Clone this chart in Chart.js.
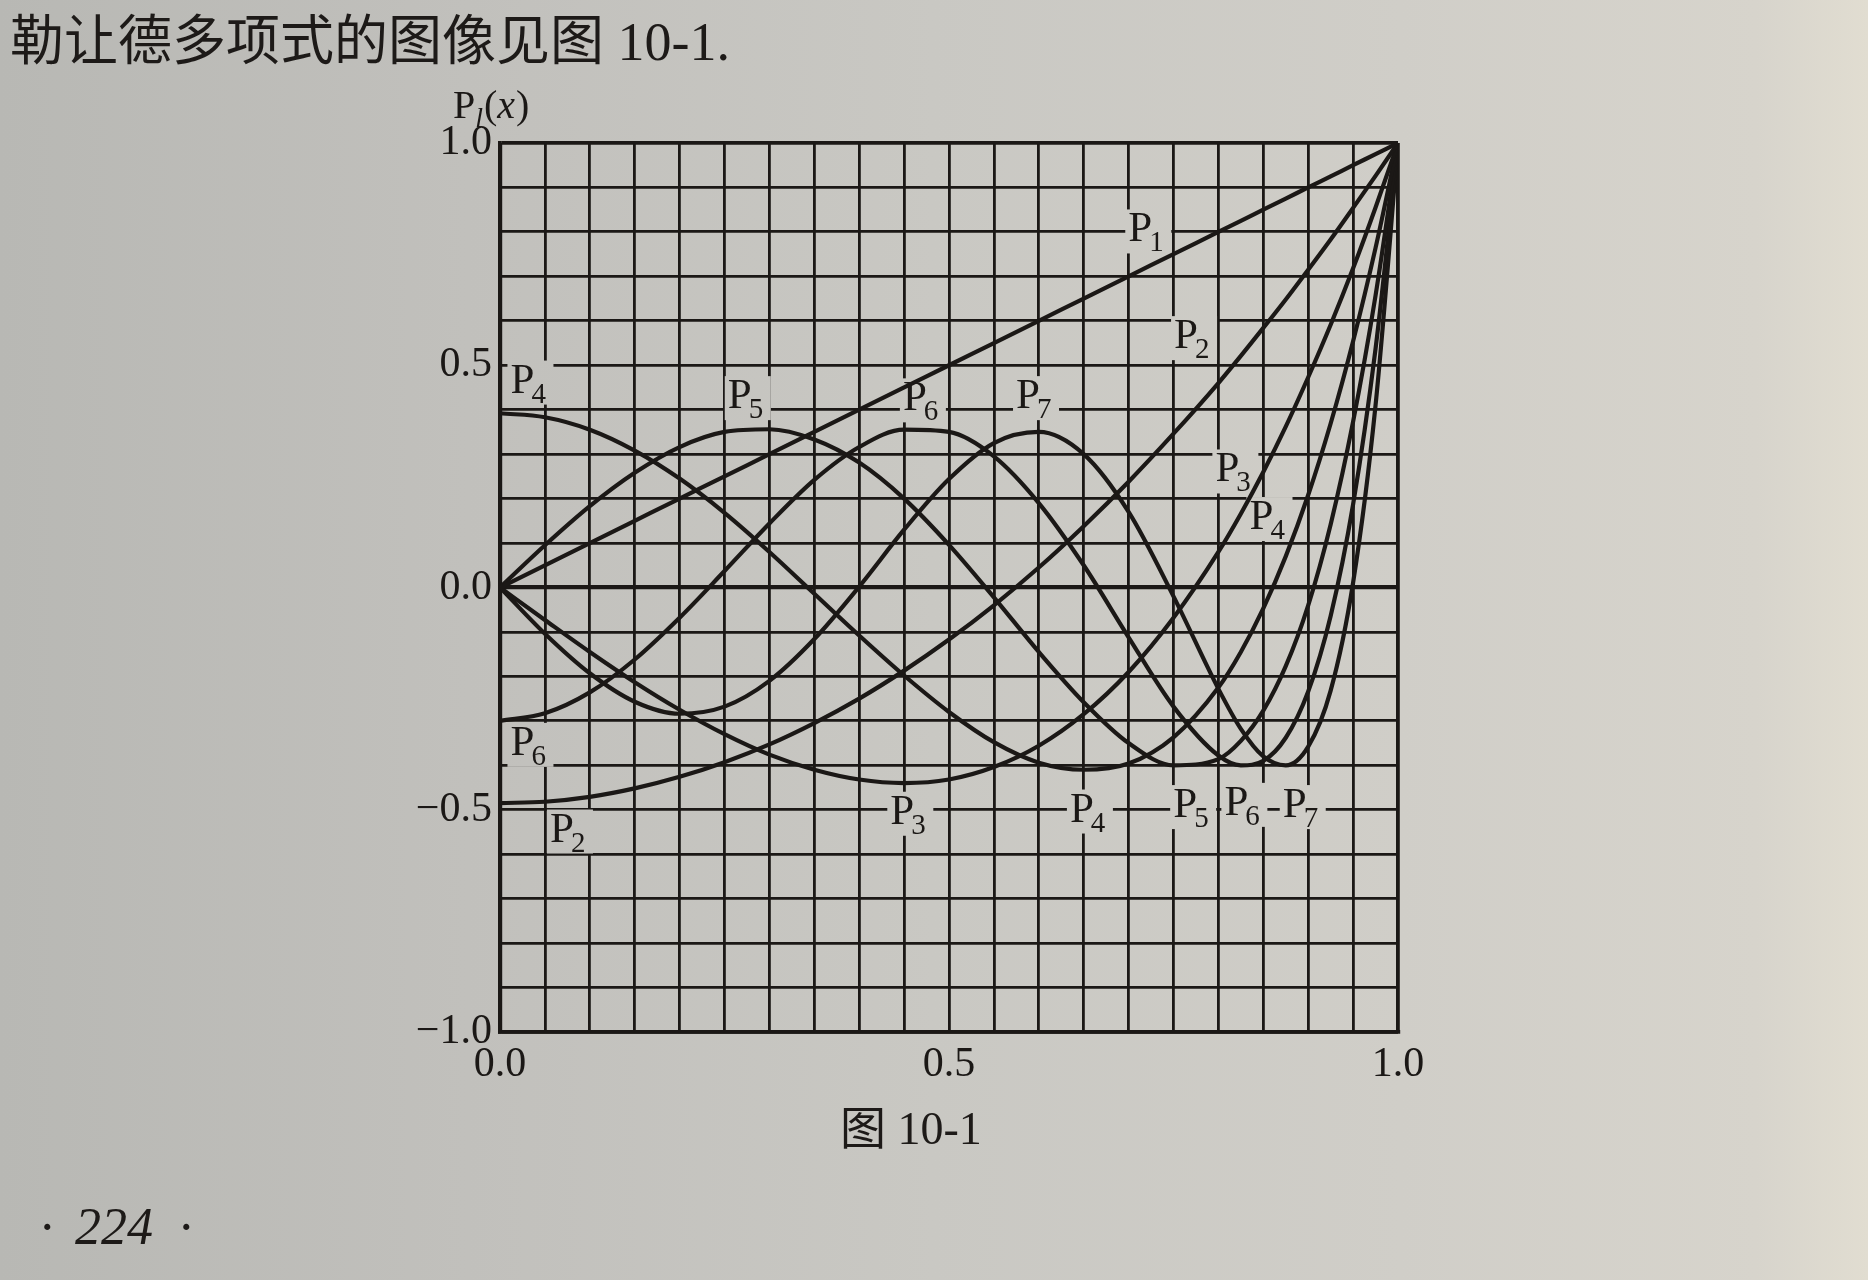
<!DOCTYPE html>
<html><head><meta charset="utf-8">
<script src="https://cdn.jsdelivr.net/npm/chart.js@4.4.1/dist/chart.umd.min.js"></script>
<style>
html,body{margin:0;padding:0;}
body{width:1868px;height:1280px;overflow:hidden;position:relative;background:#c9c8c3;
font-family:"Liberation Serif","Noto Sans CJK SC",serif;color:#1d1a18;}
#wrap{position:absolute;left:0;top:0;width:1868px;height:1280px;}
.txt{position:absolute;white-space:nowrap;z-index:2;}
</style></head><body>
<div id="wrap"><canvas id="c" width="1868" height="1280"></canvas></div>
<div class="txt" style="left:10px;top:11px;font-size:54px;line-height:62px;">勒让德多项式的图像见图 10-1.</div>
<div class="txt" style="left:840px;top:1103px;font-size:46px;line-height:52px;">图 10-1</div>
<div class="txt" style="left:40px;top:1197px;font-size:52px;line-height:60px;font-style:italic;"><span>·</span><span style="margin-left:22px;">224</span><span style="margin-left:26px;">·</span></div>
<script>
// ---- data ----
const xValues = [0,0.05,0.1,0.15,0.2,0.25,0.3,0.35,0.4,0.45,0.5,0.55,0.6,0.65,0.7,0.75,0.8,0.825,0.85,0.875,0.9,0.925,0.95,0.975,1];
const p1 = [0,0.05,0.1,0.15,0.2,0.25,0.3,0.35,0.4,0.45,0.5,0.55,0.6,0.65,0.7,0.75,0.8,0.825,0.85,0.875,0.9,0.925,0.95,0.975,1];
const p2 = [-0.485,-0.482,-0.471,-0.452,-0.426,-0.393,-0.353,-0.305,-0.25,-0.187,-0.117,-0.04,0.045,0.138,0.238,0.346,0.46,0.521,0.584,0.648,0.715,0.783,0.854,0.926,1];
const p3 = [0,-0.073,-0.145,-0.213,-0.275,-0.33,-0.376,-0.41,-0.432,-0.44,-0.432,-0.404,-0.356,-0.285,-0.19,-0.068,0.08,0.166,0.26,0.362,0.473,0.591,0.718,0.855,1];
const p4 = [0.392,0.383,0.355,0.308,0.245,0.168,0.08,-0.014,-0.108,-0.198,-0.28,-0.348,-0.394,-0.41,-0.396,-0.337,-0.225,-0.145,-0.047,0.07,0.208,0.369,0.554,0.764,1];
const p5 = [0,0.095,0.183,0.258,0.316,0.35,0.356,0.333,0.281,0.2,0.096,-0.022,-0.145,-0.258,-0.35,-0.4,-0.386,-0.345,-0.277,-0.177,-0.04,0.142,0.373,0.657,1];
const p6 = [-0.3,-0.283,-0.236,-0.162,-0.068,0.037,0.144,0.242,0.316,0.355,0.35,0.295,0.19,0.05,-0.112,-0.268,-0.378,-0.4,-0.39,-0.338,-0.234,-0.064,0.187,0.537,1];
const p7 = [0,-0.104,-0.193,-0.257,-0.284,-0.268,-0.21,-0.116,0.002,0.13,0.244,0.325,0.35,0.3,0.17,-0.02,-0.228,-0.318,-0.38,-0.4,-0.358,-0.232,0.011,0.41,1];
const seriesNames = ['P1','P2','P3','P4','P5','P6','P7'];
const xTickValues = [0,0.5,1];
const xTickLabels = ['0.0','0.5','1.0'];
const yTickValues = [-1,-0.5,0,0.5,1];
const yTickLabels = ['\u22121.0','\u22120.5','0.0','0.5','1.0'];
// curve labels (subscript index, position in data units)
const labelSubs = ['1','2','3','4','4','5','6','7','6','2','3','4','5','6','7'];
const labelXs = [0.713,0.764,0.81,0.848,0.025,0.267,0.462,0.588,0.025,0.069,0.448,0.648,0.763,0.82,0.885];
const labelYs = [0.81,0.57,0.27,0.163,0.47,0.435,0.43,0.435,-0.345,-0.54,-0.5,-0.495,-0.485,-0.48,-0.485];

const seriesValues = [p1,p2,p3,p4,p5,p6,p7];
const INK = '#1b1816';
const SERIF = '"Liberation Serif","Times New Roman",serif';
const paperStops = [[0,'#b8b8b4'],[0.25,'#c1c0bc'],[0.5,'#c9c8c3'],[0.75,'#d0cec8'],[0.94,'#d7d4cc'],[1,'#e1ddd1']];

function paperGradient(ctx){
  const g = ctx.createLinearGradient(0,0,1868,0);
  paperStops.forEach(s=>g.addColorStop(s[0],s[1]));
  return g;
}

function labelGeom(chart,i){
  const xs=chart.scales.x, ys=chart.scales.y;
  const cx=xs.getPixelForValue(labelXs[i]), cy=ys.getPixelForValue(labelYs[i]);
  return {cx,cy,base:cy+14};
}

const paper = {
  id:'paper',
  beforeDraw(chart){
    const ctx=chart.ctx;
    ctx.save();
    ctx.fillStyle=paperGradient(ctx);
    ctx.fillRect(0,0,chart.width,chart.height);
    ctx.restore();
  }
};

const curveLabels = {
  id:'curveLabels',
  beforeDatasetsDraw(chart){
    const ctx=chart.ctx;
    ctx.save();
    ctx.fillStyle=paperGradient(ctx);
    for(let i=0;i<labelSubs.length;i++){
      const g=labelGeom(chart,i);
      ctx.fillRect(g.cx-15,g.cy-18,46,44);
    }
    ctx.restore();
  },
  afterDatasetsDraw(chart){
    const ctx=chart.ctx;
    ctx.save();
    ctx.fillStyle=INK;
    ctx.textBaseline='alphabetic';
    for(let i=0;i<labelSubs.length;i++){
      const g=labelGeom(chart,i);
      ctx.font='43px '+SERIF;
      ctx.textAlign='center';
      ctx.fillText('P',g.cx,g.base);
      const w=ctx.measureText('P').width;
      ctx.font='29px '+SERIF;
      ctx.textAlign='left';
      ctx.fillText(labelSubs[i],g.cx+w/2-3,g.base+10);
    }
    // axis title P_l(x)
    let x=453; const b=118;
    ctx.textAlign='left';
    ctx.font='40px '+SERIF;
    ctx.fillText('P',x,b); x+=ctx.measureText('P').width;
    ctx.font='italic 28px '+SERIF;
    ctx.fillText('l',x,b+9); x+=ctx.measureText('l').width+1;
    ctx.font='40px '+SERIF;
    ctx.fillText('(',x,b); x+=ctx.measureText('(').width;
    ctx.font='italic 40px '+SERIF;
    ctx.fillText('x',x,b); x+=ctx.measureText('x').width+1;
    ctx.font='40px '+SERIF;
    ctx.fillText(')',x,b);
    ctx.restore();
  }
};

function near(v,arr){ for(let i=0;i<arr.length;i++){ if(Math.abs(v-arr[i])<1e-6) return i; } return -1; }

const datasets = seriesValues.map((vals,k)=>({
  label: seriesNames[k],
  data: xValues.map((xv,i)=>({x:xv,y:vals[i]})),
  borderColor: INK,
  borderWidth: 4.2,
  pointRadius: 0,
  fill:false,
  cubicInterpolationMode:'monotone'
}));

function gridWidth(ctx){
  const v = ctx.tick ? ctx.tick.value : null;
  if(v===null) return 2.8;
  if(Math.abs(v)<1e-6) return 4.2;
  if(Math.abs(Math.abs(v)-1)<1e-6) return 3.8;
  return 2.8;
}

new Chart(document.getElementById('c'),{
  type:'line',
  data:{datasets},
  options:{
    responsive:false,
    animation:false,
    events:[],
    layout:{padding:{left:0,top:143,right:470,bottom:178}},
    plugins:{legend:{display:false},tooltip:{enabled:false},title:{display:false}},
    scales:{
      x:{
        type:'linear',min:0,max:1,
        afterFit(s){ s.height=70; },
        ticks:{stepSize:0.05,autoSkip:false,maxRotation:0,color:INK,padding:8,
          font:{family:SERIF,size:42},
          callback(v){ const i=near(v,xTickValues); return i>=0?xTickLabels[i]:''; }},
        grid:{color:INK,lineWidth:gridWidth,drawTicks:false},
        border:{display:true,color:INK,width:3.8}
      },
      y:{
        type:'linear',min:-1,max:1,
        afterFit(s){ s.width=500; },
        ticks:{stepSize:0.1,autoSkip:false,color:INK,padding:8,
          font:{family:SERIF,size:42},
          callback(v){ const i=near(v,yTickValues); return i>=0?yTickLabels[i]:''; }},
        grid:{color:INK,lineWidth:gridWidth,drawTicks:false},
        border:{display:true,color:INK,width:3.8}
      }
    }
  },
  plugins:[paper,curveLabels]
});
</script>
</body></html>
